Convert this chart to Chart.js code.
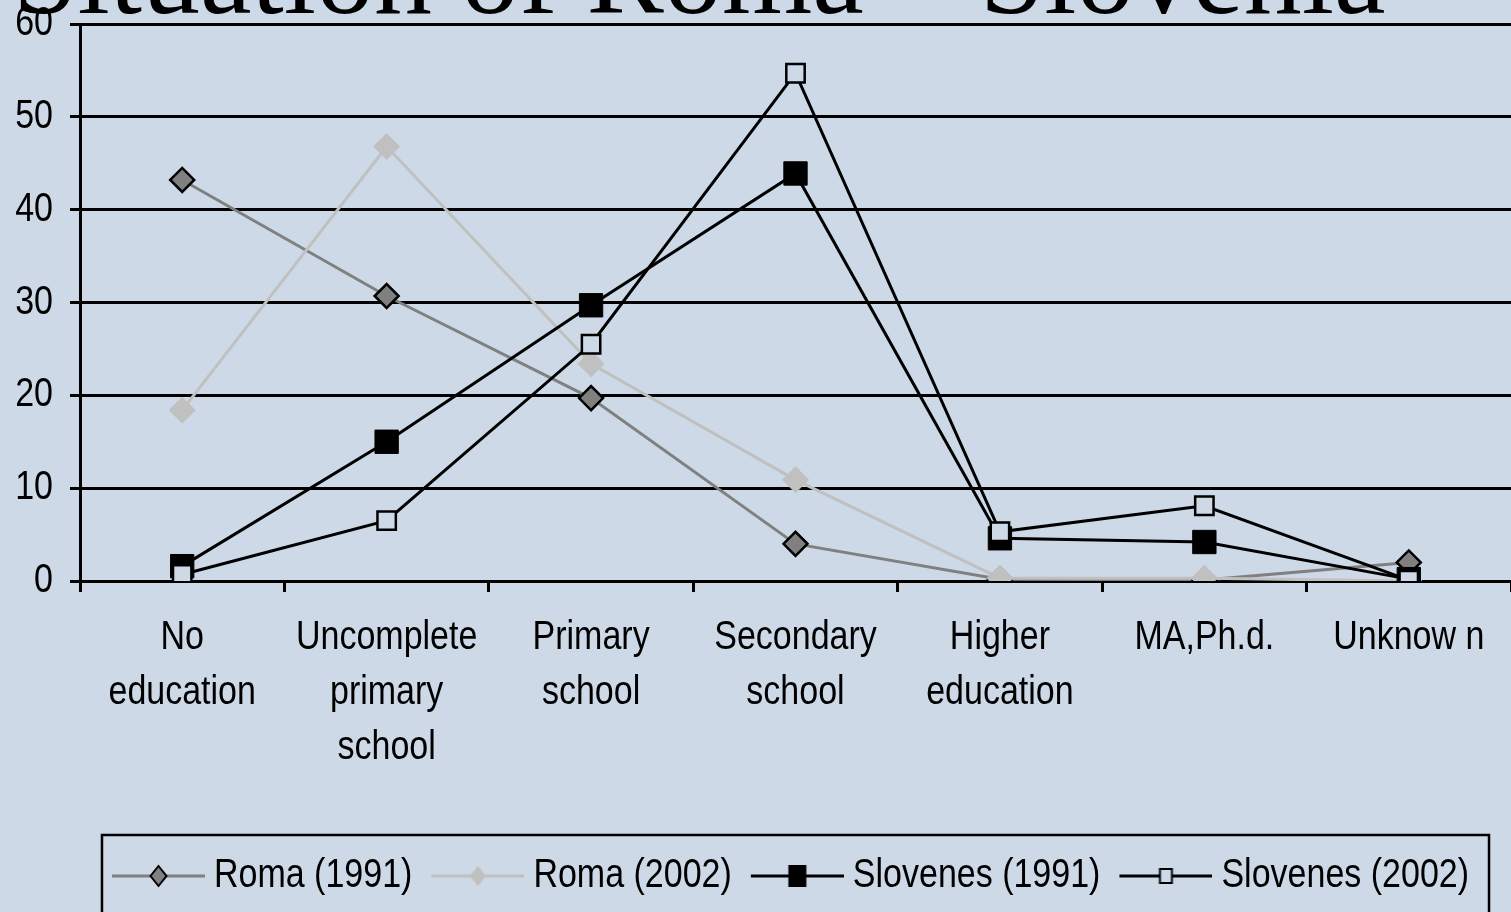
<!DOCTYPE html>
<html>
<head>
<meta charset="utf-8">
<title>Situation of Roma – Slovenia</title>
<script src="https://cdn.jsdelivr.net/npm/chart.js@4"></script>
<style>
    html, body { margin: 0; padding: 0; background: #cdd9e6; overflow: hidden; }
    #wrap { width: 1511px; height: 924px; }
</style>
</head>
<body>
<div id="wrap"><canvas id="eduChart" width="1511" height="924"></canvas></div>
<script>
const chartTitle = 'Situation of Roma – Slovenia';
const categories = [
    ['No', 'education'],
    ['Uncomplete', 'primary', 'school'],
    ['Primary', 'school'],
    ['Secondary', 'school'],
    ['Higher', 'education'],
    ['MA,Ph.d.'],
    ['Unknow n']
];
const seriesNames = ['Roma (1991)', 'Roma (2002)', 'Slovenes (1991)', 'Slovenes (2002)'];
const roma1991 = [43.2, 30.7, 19.7, 4.0, 0.2, 0.1, 2.0];
const roma2002 = [18.4, 46.8, 23.4, 10.9, 0.3, 0.3, 0.0];
const slovenes1991 = [1.6, 15.0, 29.7, 43.9, 4.6, 4.2, 0.2];
const slovenes2002 = [0.7, 6.5, 25.5, 54.7, 5.3, 8.1, 0.1];
const yMin = 0;
const yMax = 60;
const yStep = 10;

document.addEventListener('DOMContentLoaded', function () {
    const bg = '#cdd9e6';
    const sansFont = '"Liberation Sans", Arial, sans-serif';
    const squeeze = 0.85; // the original uses a narrow sans face

    // small line+marker sample for the legend
    function legendIcon(lineColor, marker, fill, stroke) {
        const c = document.createElement('canvas');
        c.width = 108;
        c.height = 40;
        const ctx = c.getContext('2d');
        ctx.strokeStyle = lineColor;
        ctx.lineWidth = 3;
        ctx.beginPath();
        ctx.moveTo(15, 20);
        ctx.lineTo(108, 20);
        ctx.stroke();
        ctx.fillStyle = fill;
        ctx.strokeStyle = stroke;
        ctx.lineWidth = 2;
        const cx = 61.5, cy = 20;
        if (marker === 'diamond') {
            ctx.beginPath();
            ctx.moveTo(cx, cy - 10);
            ctx.lineTo(cx + 8, cy);
            ctx.lineTo(cx, cy + 10);
            ctx.lineTo(cx - 8, cy);
            ctx.closePath();
            ctx.fill();
            if (stroke) ctx.stroke();
        } else if (marker === 'bigsquare') {
            ctx.fillRect(cx - 9, cy - 11, 18, 22);
        } else {
            ctx.fillRect(cx - 6, cy - 7, 12, 14);
            ctx.strokeRect(cx - 6, cy - 7, 12, 14);
        }
        return c;
    }

    const icons = [
        legendIcon('#808080', 'diamond', '#808080', '#000000'),
        legendIcon('#c0c0c0', 'diamond', '#c0c0c0', null),
        legendIcon('#000000', 'bigsquare', '#000000', null),
        legendIcon('#000000', 'square', bg, '#000000')
    ];

    // condense all chart text horizontally
    const narrowTextPlugin = {
        id: 'narrowText',
        beforeInit(chart) {
            const ctx = chart.ctx;
            const rawFill = ctx.fillText.bind(ctx);
            const rawMeasure = ctx.measureText.bind(ctx);
            chart.$rawFill = rawFill;
            ctx.fillText = function (text, x, y) {
                ctx.save();
                ctx.translate(x, y);
                ctx.scale(squeeze, 1);
                rawFill(text, 0, 0);
                ctx.restore();
            };
            ctx.measureText = function (text) {
                const m = rawMeasure(text);
                return {
                    width: m.width * squeeze,
                    actualBoundingBoxAscent: m.actualBoundingBoxAscent,
                    actualBoundingBoxDescent: m.actualBoundingBoxDescent
                };
            };
        }
    };

    const titlePlugin = {
        id: 'slideTitle',
        afterDraw(chart) {
            const { ctx } = chart;
            ctx.save();
            ctx.font = '116px "Liberation Serif", "Times New Roman", serif';
            ctx.fillStyle = '#000';
            ctx.textAlign = 'left';
            ctx.textBaseline = 'alphabetic';
            chart.$rawFill(chartTitle, 13, 13);
            ctx.restore();
        }
    };

    const legendBoxPlugin = {
        id: 'legendBox',
        afterLayout(chart) {
            const lg = chart.legend;
            lg.left = 66;
            lg.top -= 18;
            lg.bottom -= 18;
        },
        afterDraw(chart) {
            const boxes = chart.legend.legendHitBoxes;
            if (!boxes || !boxes.length) return;
            const first = boxes[0];
            const last = boxes[boxes.length - 1];
            const midY = first.top + first.height / 2;
            const x0 = first.left - 6;
            const x1 = last.left + last.width + 20;
            const ctx = chart.ctx;
            ctx.save();
            ctx.strokeStyle = '#000';
            ctx.lineWidth = 2.5;
            ctx.strokeRect(x0, midY - 41, x1 - x0, 100);
            ctx.restore();
        }
    };

    new Chart(document.getElementById('eduChart'), {
        type: 'line',
        data: {
            labels: categories,
            datasets: [{
                label: seriesNames[0],
                data: roma1991,
                borderColor: '#808080',
                borderWidth: 3,
                pointStyle: 'rectRot',
                pointRadius: 12,
                pointBackgroundColor: '#808080',
                pointBorderColor: '#000000',
                pointBorderWidth: 2.5,
                order: 4
            }, {
                label: seriesNames[1],
                data: roma2002,
                borderColor: '#c0c0c0',
                borderWidth: 3,
                pointStyle: 'rectRot',
                pointRadius: 13,
                pointBackgroundColor: '#c0c0c0',
                pointBorderColor: '#c0c0c0',
                pointBorderWidth: 1,
                order: 3
            }, {
                label: seriesNames[2],
                data: slovenes1991,
                borderColor: '#000000',
                borderWidth: 3,
                pointStyle: 'rect',
                pointRadius: 16.5,
                pointBackgroundColor: '#000000',
                pointBorderColor: '#000000',
                pointBorderWidth: 1,
                order: 2
            }, {
                label: seriesNames[3],
                data: slovenes2002,
                borderColor: '#000000',
                borderWidth: 3,
                pointStyle: 'rect',
                pointRadius: 13,
                pointBackgroundColor: bg,
                pointBorderColor: '#000000',
                pointBorderWidth: 2.5,
                order: 1
            }]
        },
        options: {
            responsive: false,
            animation: false,
            layout: {
                autoPadding: false,
                padding: { top: 24, left: 0, right: 0, bottom: 0 }
            },
            elements: {
                line: { tension: 0 }
            },
            scales: {
                x: {
                    offset: true,
                    grid: {
                        offset: true,
                        drawOnChartArea: false,
                        drawTicks: true,
                        tickLength: 11,
                        color: '#000',
                        lineWidth: 3
                    },
                    border: { display: false },
                    ticks: {
                        color: '#000',
                        padding: 18,
                        maxRotation: 0,
                        autoSkip: false,
                        font: { family: sansFont, size: 40, lineHeight: 1.375 }
                    },
                    afterFit(scale) {
                        scale.height = 278;
                        scale.paddingLeft = 0;
                        scale.paddingRight = 0;
                    }
                },
                y: {
                    min: yMin,
                    max: yMax,
                    ticks: {
                        stepSize: yStep,
                        color: '#000',
                        padding: 17,
                        font: { family: sansFont, size: 40 }
                    },
                    grid: {
                        color: '#000',
                        lineWidth: 3,
                        tickLength: 10
                    },
                    border: { color: '#000', width: 3 },
                    afterFit(scale) {
                        scale.width = 80;
                        scale.paddingTop = 0;
                        scale.paddingBottom = 0;
                    }
                }
            },
            plugins: {
                title: { display: false },
                tooltip: { enabled: false },
                legend: {
                    display: true,
                    position: 'bottom',
                    align: 'center',
                    labels: {
                        usePointStyle: true,
                        pointStyleWidth: 86,
                        padding: 15,
                        color: '#000',
                        font: { family: sansFont, size: 40 },
                        sort: (a, b) => a.datasetIndex - b.datasetIndex,
                        generateLabels(chart) {
                            return chart.data.datasets.map((ds, i) => ({
                                text: ds.label,
                                pointStyle: icons[i],
                                fillStyle: 'transparent',
                                strokeStyle: 'transparent',
                                lineWidth: 0,
                                fontColor: '#000',
                                hidden: false,
                                datasetIndex: i
                            }));
                        }
                    }
                }
            }
        },
        plugins: [narrowTextPlugin, titlePlugin, legendBoxPlugin]
    });
});
</script>
</body>
</html>
